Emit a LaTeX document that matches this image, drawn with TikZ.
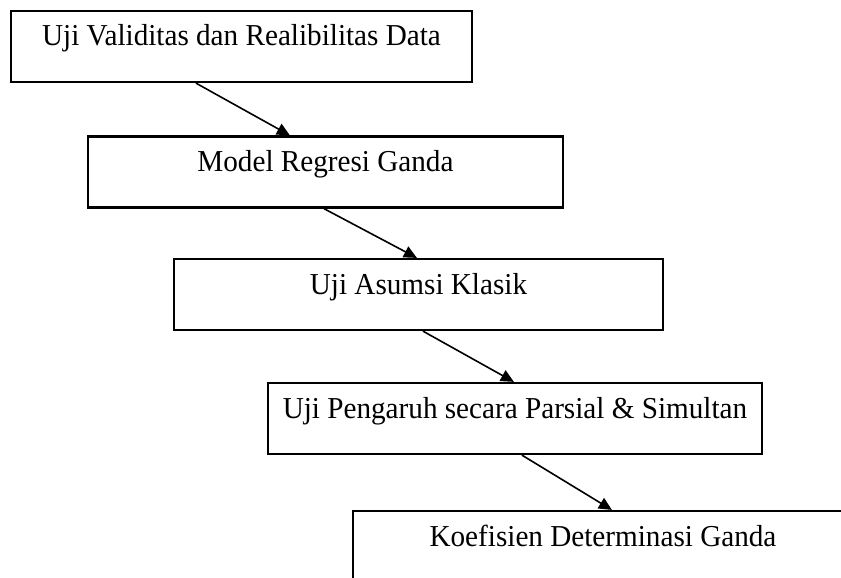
\documentclass[tikz,border=0pt]{standalone}
\usepackage{fontspec}
\setmainfont[FakeStretch=0.96]{Liberation Serif}
\usetikzlibrary{arrows.meta, positioning}

\begin{document}
\begin{tikzpicture}[x=0.5pt, y=-0.5pt,
  stage/.style={draw, line width=1.1pt, inner sep=0pt, minimum height=35.5pt,
    text height=17.5pt, text depth=18pt, font=\fontsize{15.2pt}{18pt}\selectfont},
  flow/.style={line width=0.8pt, -{Triangle[length=6.5pt, width=6pt]}}]
\useasboundingbox (0,0) rectangle (841,578);
\node[stage, minimum width=230.5pt] (valid) at (241.5,46.5) {Uji Validitas dan Realibilitas Data};
\node[stage, minimum width=237.5pt] (regresi) at (325.5,172) {Model Regresi Ganda};
\node[stage, minimum width=244.5pt] (asumsi) at (418.5,294.5) {Uji Asumsi Klasik};
\node[stage, minimum width=247pt] (pengaruh) at (515,418.5) {Uji Pengaruh secara Parsial \& Simultan};
\node[stage, minimum width=250pt] (koef) at (603,546.5) {Koefisien Determinasi Ganda};
% arrows between stages
\draw[flow] ([xshift=93pt]valid.south west) -- ([xshift=101.5pt]regresi.north west);
\draw[flow] ([xshift=118.5pt]regresi.south west) -- ([xshift=122pt]asumsi.north west);
\draw[flow] ([xshift=125pt]asumsi.south west) -- ([xshift=123.5pt]pengaruh.north west);
\draw[flow] ([xshift=127.5pt]pengaruh.south west) -- ([xshift=130pt]koef.north west);
\end{tikzpicture}
\end{document}
